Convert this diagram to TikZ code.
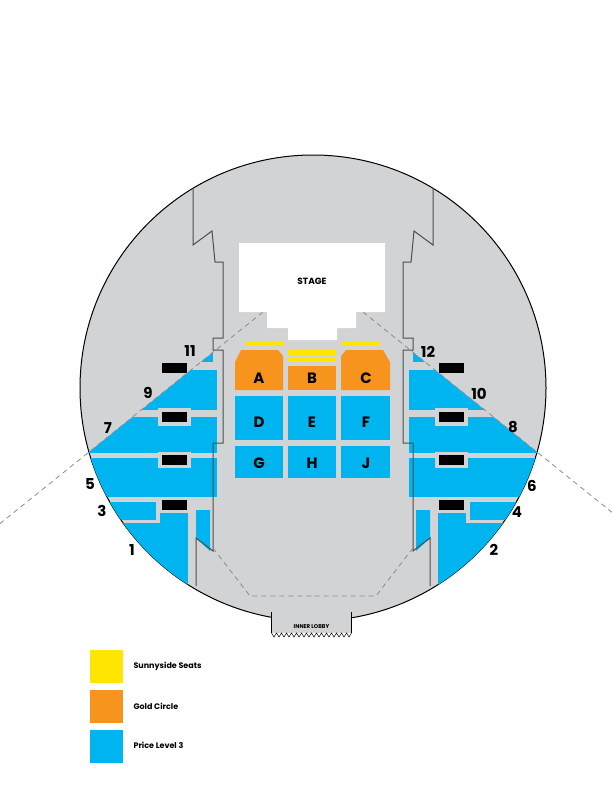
\documentclass[tikz,border=0pt]{standalone}
\usepackage{fontspec}
\setmainfont{Poppins}
\definecolor{gry}{HTML}{D1D3D4}
\definecolor{wal}{HTML}{4D4D4D}
\definecolor{blu}{HTML}{00B5EF}
\definecolor{org}{HTML}{F7941D}
\definecolor{yel}{HTML}{FFE600}
\tikzset{
 wall/.style={draw=wal,line width=1pt},
 dsh/.style={draw=gray!90,dash pattern=on 5pt off 4pt,line width=0.8pt},
 num/.style={font=\bfseries\fontsize{15}{15}\selectfont},
 sec/.style={font=\bfseries\fontsize{15}{15}\selectfont},
 leg/.style={font=\bfseries\fontsize{8}{8}\selectfont,anchor=west},
}
\newcommand{\sideplan}{%
 \begin{scope}
  \clip (313,388) circle (233);
  \clip (263,312)--(0,523.6)--(0,792)--(263,792)--cycle;
  \fill[blu] (195,350) rectangle (213,362);
  \fill[blu] (120,370) rectangle (217,410);
  \fill[blu] (40,417) rectangle (217,453);
  \fill[blu] (40,458) rectangle (217,497);
  \fill[blu] (40,502) rectangle (156,520);
  \fill[blu] (40,523) rectangle (188,640);
  \fill[blu] (160,512) rectangle (188,523);
  \fill[blu] (196,510)--(210,510)--(210,551)--(196,538)--cycle;
 \end{scope}
 \fill[gry] (158,408) rectangle (191,426);
 \fill[gry] (158,452) rectangle (191,468);
 \fill[gry] (158,497) rectangle (191,513);
 \fill[black] (162,363) rectangle (187,373);
 \fill[black] (162,412) rectangle (187,422);
 \fill[black] (162,455) rectangle (187,465);
 \fill[black] (162,500) rectangle (187,510);
 \draw[wall] (193,188)--(193,245)--(212,231)--(215,262)--(223,262)--(223,338)--(213,338)--(213,350)--(223,350)--(223,443)--(213,443)--(213,551)--(196,538)--(196,586);
 \draw[dsh] (263,312)--(0,523.6);
 \draw[dsh] (213,548)--(250,596)--(313,596);
}
\begin{document}
\begin{tikzpicture}[x=1pt,y=-1pt]
\useasboundingbox (0,0) rectangle (612,792);
\fill[white] (0,0) rectangle (612,792);
\draw[fill=gry,line width=1pt] (313,388) circle (233);
% lobby
\fill[gry] (271.5,600) rectangle (351.5,633);
\draw[line width=0.8pt] (271.5,612)--(271.5,633) (351.5,612)--(351.5,633);
\draw[line width=0.5pt] (271.5,633) \foreach \i in {0,...,15} {-- ++(2.5,4) -- ++(2.5,-4)};
\node[font=\bfseries\fontsize{5.5}{5.5}\selectfont] (lobby) at (311.5,627) {INNER LOBBY};
\sideplan
\begin{scope}[shift={(626,0)},xscale=-1]
\sideplan
\end{scope}
% stage
\fill[white] (239,243)--(385,243)--(385,312)--(356,312)--(356,328)--(337,328)--(337,340)--(288,340)--(288,328)--(267,328)--(267,312)--(239,312)--cycle;
\node[font=\bfseries\fontsize{9}{9}\selectfont] (stage) at (312,281) {STAGE};
% yellow
\fill[yel] (246,342) rectangle (284,346);
\fill[yel] (342,342) rectangle (380,346);
\fill[yel] (288,350) rectangle (336,355);
\fill[yel] (288,357) rectangle (336,362);
% orange
\fill[org] (241,350)--(278,350)--(283,356)--(283,390)--(235,390)--(235,362)--cycle;
\fill[org] (288,366) rectangle (336,390);
\fill[org] (346,350)--(383,350)--(390,362)--(390,390)--(341,390)--(341,356)--cycle;
% blue center
\fill[blu] (235,396) rectangle (283,440);
\fill[blu] (288,396) rectangle (336,440);
\fill[blu] (341,396) rectangle (390,440);
\fill[blu] (235,446) rectangle (283,478);
\fill[blu] (288,446) rectangle (336,478);
\fill[blu] (341,446) rectangle (390,478);
\node[sec] (A) at (259,378) {A};
\node[sec] (B) at (312,378) {B};
\node[sec] (C) at (366,378) {C};
\node[sec] (D) at (259,422) {D};
\node[sec] (E) at (312,422) {E};
\node[sec] (F) at (366,422) {F};
\node[sec] (G) at (259,463) {G};
\node[sec] (H) at (312,463) {H};
\node[sec] (J) at (366,463) {J};
% numbers
\node[num] (n11) at (190,351) {11};
\node[num] (n9) at (148,393) {9};
\node[num] (n7) at (108,428) {7};
\node[num] (n5) at (90,484) {5};
\node[num] (n3) at (102,511) {3};
\node[num] (n1) at (132,550) {1};
\node[num] (n12) at (428,352) {12};
\node[num] (n10) at (479,394) {10};
\node[num] (n8) at (513,427) {8};
\node[num] (n6) at (532,486) {6};
\node[num] (n4) at (517,512) {4};
\node[num] (n2) at (494,550) {2};
% legend
\fill[yel] (90,650) rectangle (123,683);
\fill[org] (90,690) rectangle (123,723);
\fill[blu] (90,730) rectangle (123,763);
\node[leg] (l1) at (130,666) {Sunnyside Seats};
\node[leg] (l2) at (130,706) {Gold Circle};
\node[leg] (l3) at (130,745) {Price Level 3};
\end{tikzpicture}
\end{document}
